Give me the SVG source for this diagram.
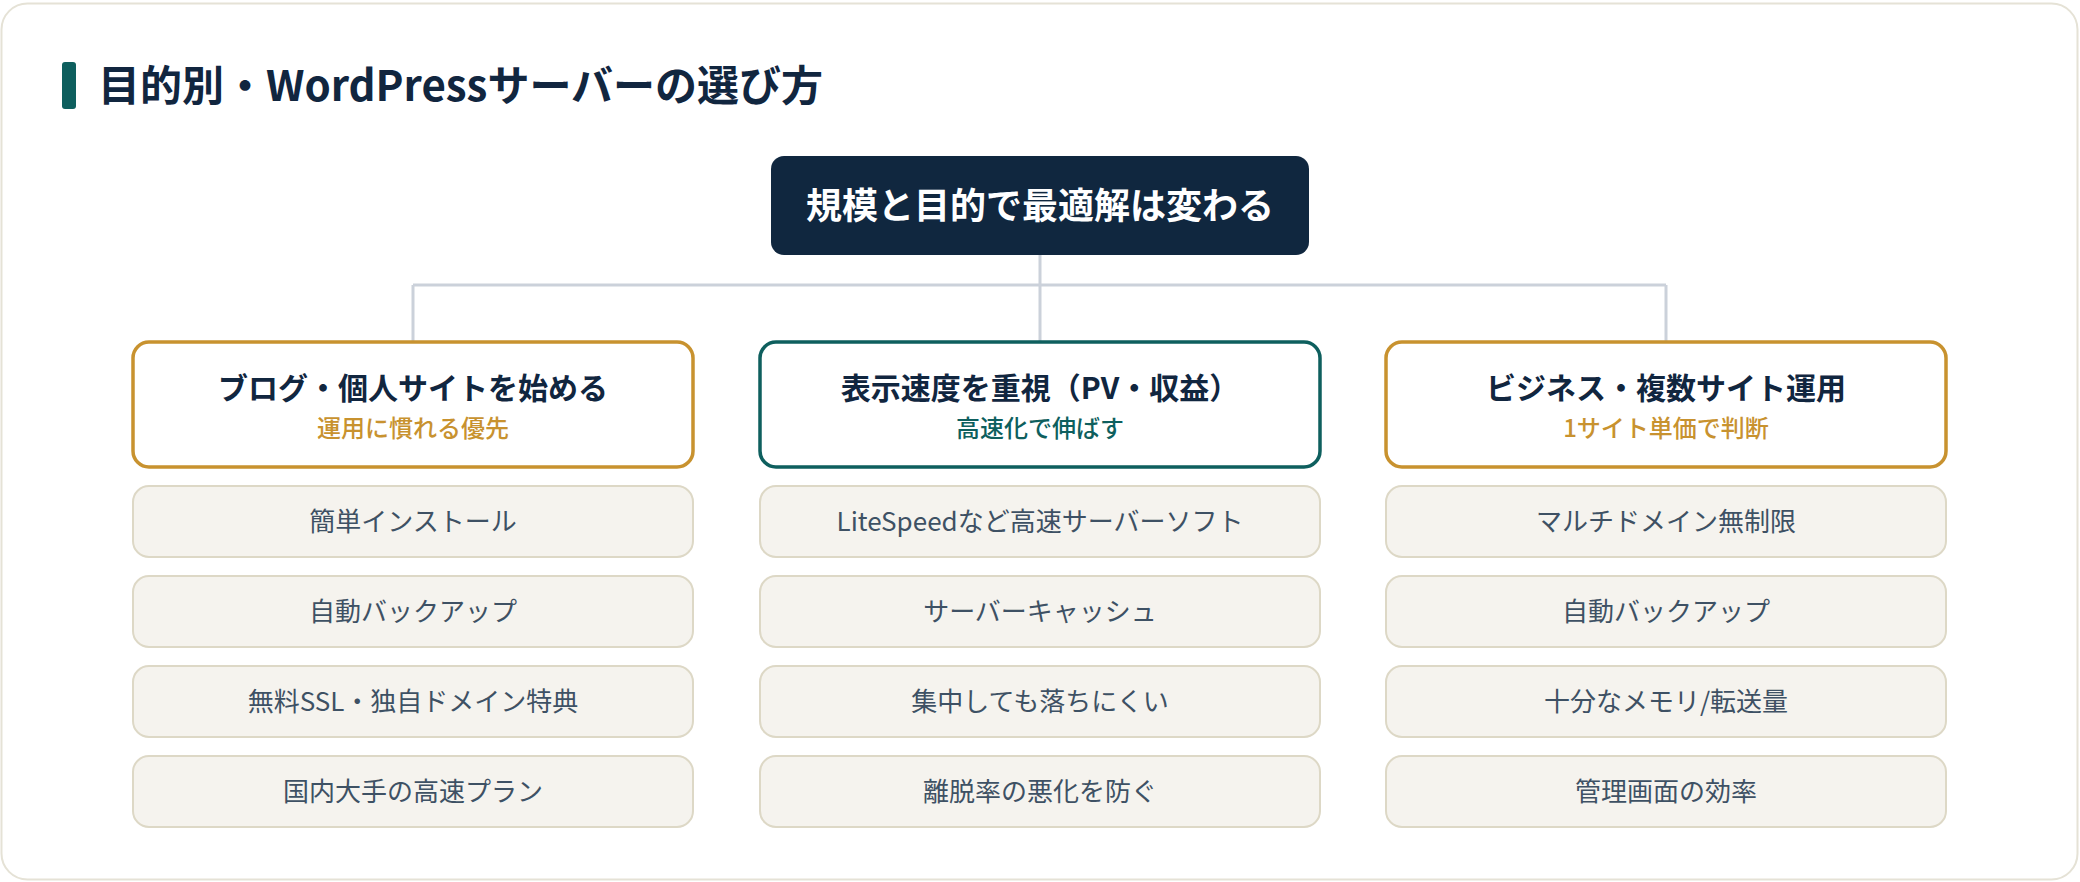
<svg xmlns="http://www.w3.org/2000/svg" width="2080" height="882" viewBox="0 0 2080 882">
<style>
text{font-family:"Noto Sans CJK JP","Noto Sans",sans-serif;text-anchor:middle}
.title{font-size:42px;font-weight:700;fill:#11263f;text-anchor:start}
.hub{fill:#10273f}
.hubt{font-size:36px;font-weight:700;fill:#ffffff}
.hdr{fill:#ffffff;stroke-width:3.5}
.gold{stroke:#c8922f}
.teal{stroke:#0e5f5e}
.ht{font-size:30px;font-weight:700;fill:#11263f}
.st{font-size:24px;font-weight:500}
.sgold{fill:#c8922f}
.steal{fill:#0e5f5e}
.item{fill:#f5f3ee;stroke:#ddd8c6;stroke-width:2}
.it{font-size:26px;font-weight:400;fill:#3e5164}
.conn{stroke:#cbd1da;stroke-width:3;fill:none}
</style>
<rect x="1.5" y="3.5" width="2076" height="876" rx="26" fill="#ffffff" stroke="#e5e2d6" stroke-width="2"/>
<g id="title">
<rect x="62" y="62" width="14" height="47" rx="3" fill="#0e5f5e"/>
<text class="title" x="98" y="101">目的別・WordPressサーバーの選び方</text>
</g>
<g id="connectors">
<path class="conn" d="M1040 255 V342 M413 285 H1666 M413 285 V342 M1666 285 V342"/>
</g>
<g id="hub">
<rect class="hub" x="771" y="156" width="538" height="99" rx="13"/>
<text class="hubt" x="1040" y="219">規模と目的で最適解は変わる</text>
</g>
<g id="col-blog">
<rect class="hdr gold" x="133" y="342" width="560" height="125" rx="16"/>
<text class="ht" x="413" y="399">ブログ・個人サイトを始める</text>
<text class="st sgold" x="413" y="437">運用に慣れる優先</text>
</g>
<g id="col-speed">
<rect class="hdr teal" x="760" y="342" width="560" height="125" rx="16"/>
<text class="ht" x="1040" y="399">表示速度を重視（PV・収益）</text>
<text class="st steal" x="1040" y="437">高速化で伸ばす</text>
</g>
<g id="col-biz">
<rect class="hdr gold" x="1386" y="342" width="560" height="125" rx="16"/>
<text class="ht" x="1666" y="399">ビジネス・複数サイト運用</text>
<text class="st sgold" x="1666" y="437">1サイト単価で判断</text>
</g>
<g id="items-blog">
<g id="b1"><rect class="item" x="133" y="486" width="560" height="71" rx="16"/><text class="it" x="413" y="531">簡単インストール</text></g>
<g id="b2"><rect class="item" x="133" y="576" width="560" height="71" rx="16"/><text class="it" x="413" y="621">自動バックアップ</text></g>
<g id="b3"><rect class="item" x="133" y="666" width="560" height="71" rx="16"/><text class="it" x="413" y="711">無料SSL・独自ドメイン特典</text></g>
<g id="b4"><rect class="item" x="133" y="756" width="560" height="71" rx="16"/><text class="it" x="413" y="801">国内大手の高速プラン</text></g>
</g>
<g id="items-speed">
<g id="s1"><rect class="item" x="760" y="486" width="560" height="71" rx="16"/><text class="it" x="1040" y="531">LiteSpeedなど高速サーバーソフト</text></g>
<g id="s2"><rect class="item" x="760" y="576" width="560" height="71" rx="16"/><text class="it" x="1040" y="621">サーバーキャッシュ</text></g>
<g id="s3"><rect class="item" x="760" y="666" width="560" height="71" rx="16"/><text class="it" x="1040" y="711">集中しても落ちにくい</text></g>
<g id="s4"><rect class="item" x="760" y="756" width="560" height="71" rx="16"/><text class="it" x="1040" y="801">離脱率の悪化を防ぐ</text></g>
</g>
<g id="items-biz">
<g id="z1"><rect class="item" x="1386" y="486" width="560" height="71" rx="16"/><text class="it" x="1666" y="531">マルチドメイン無制限</text></g>
<g id="z2"><rect class="item" x="1386" y="576" width="560" height="71" rx="16"/><text class="it" x="1666" y="621">自動バックアップ</text></g>
<g id="z3"><rect class="item" x="1386" y="666" width="560" height="71" rx="16"/><text class="it" x="1666" y="711">十分なメモリ/転送量</text></g>
<g id="z4"><rect class="item" x="1386" y="756" width="560" height="71" rx="16"/><text class="it" x="1666" y="801">管理画面の効率</text></g>
</g>
</svg>
